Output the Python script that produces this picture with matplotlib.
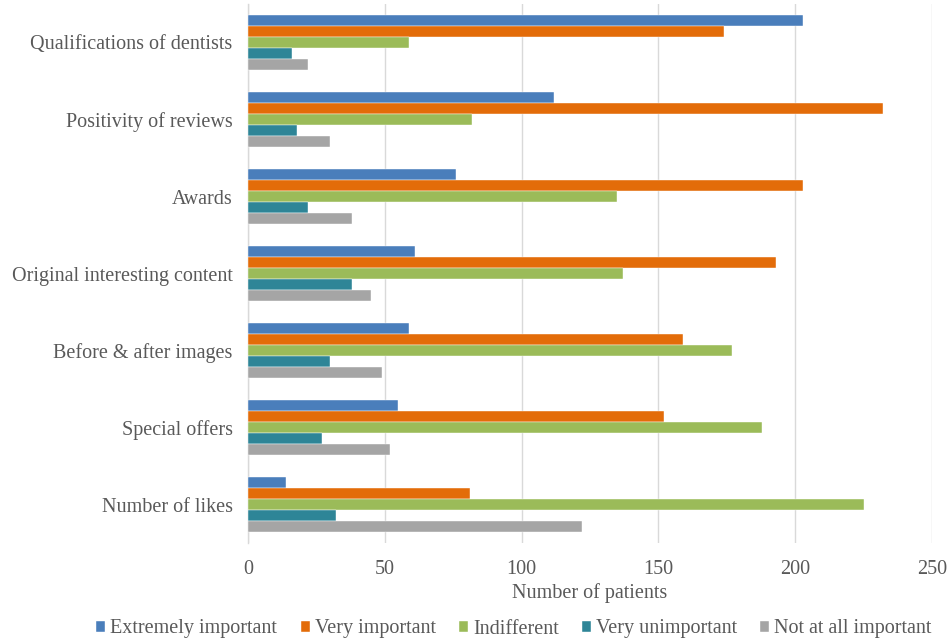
import numpy as np
import matplotlib
matplotlib.use("Agg")
import matplotlib.pyplot as plt

categories = ["Qualifications of dentists", "Positivity of reviews", "Awards",
              "Original interesting content", "Before & after images",
              "Special offers", "Number of likes"]
series_names = ["Extremely important", "Very important", "Indifferent",
                "Very unimportant", "Not at all important"]
extremely = [203, 112, 76, 61, 59, 55, 14]
very = [174, 232, 203, 193, 159, 152, 81]
indifferent = [59, 82, 135, 137, 177, 188, 225]
very_unimp = [16, 18, 22, 38, 30, 27, 32]
not_at_all = [22, 30, 38, 45, 49, 52, 122]
x_ticks = [0, 50, 100, 150, 200, 250]

colors = ["#4A7EBB", "#E36C09", "#9BBB59", "#2E8597", "#A5A5A5"]
text_color = "#595959"

plt.rcParams['font.family'] = ['Liberation Serif', 'DejaVu Serif']
fs = 14.5

fig = plt.figure(figsize=(9.49, 6.41), dpi=100)
ax = fig.add_axes([248 / 949, 1 - 543 / 641, (932 - 248) / 949, (543 - 4) / 641])

series = [extremely, very, indifferent, very_unimp, not_at_all]
n = len(series)
bar_h = 0.143
y = np.arange(len(categories))
for i, (vals, name) in enumerate(zip(series, series_names)):
    offset = (i - (n - 1) / 2) * bar_h
    ax.barh(y + offset, vals, height=bar_h, color=colors[i], label=name,
            edgecolor="white", linewidth=0.3, zorder=3)

ax.set_ylim(len(categories) - 0.5, -0.5)
ax.set_xlim(0, 250)
ax.set_xticks(x_ticks)
ax.set_yticks(y)
ax.set_yticklabels(categories)
ax.tick_params(axis="both", length=0, colors=text_color, labelsize=fs)
ax.tick_params(axis="x", pad=12)
ax.tick_params(axis="y", pad=11)
ax.grid(axis="x", color="#D9D9D9", linewidth=1, zorder=0)
for s in ["top", "right", "bottom"]:
    ax.spines[s].set_visible(False)
ax.spines["left"].set_color("#D9D9D9")
ax.spines["left"].set_linewidth(1)

ax.set_xlabel("Number of patients", color=text_color, fontsize=fs, labelpad=3)

fig.legend(loc="center", bbox_to_anchor=(514 / 949, 1 - 629 / 641), ncol=5,
           frameon=False, handlelength=0.45, handleheight=0.45, handletextpad=0.25,
           columnspacing=1.15, fontsize=fs, labelcolor=text_color)

plt.savefig("out.png", dpi=100)
